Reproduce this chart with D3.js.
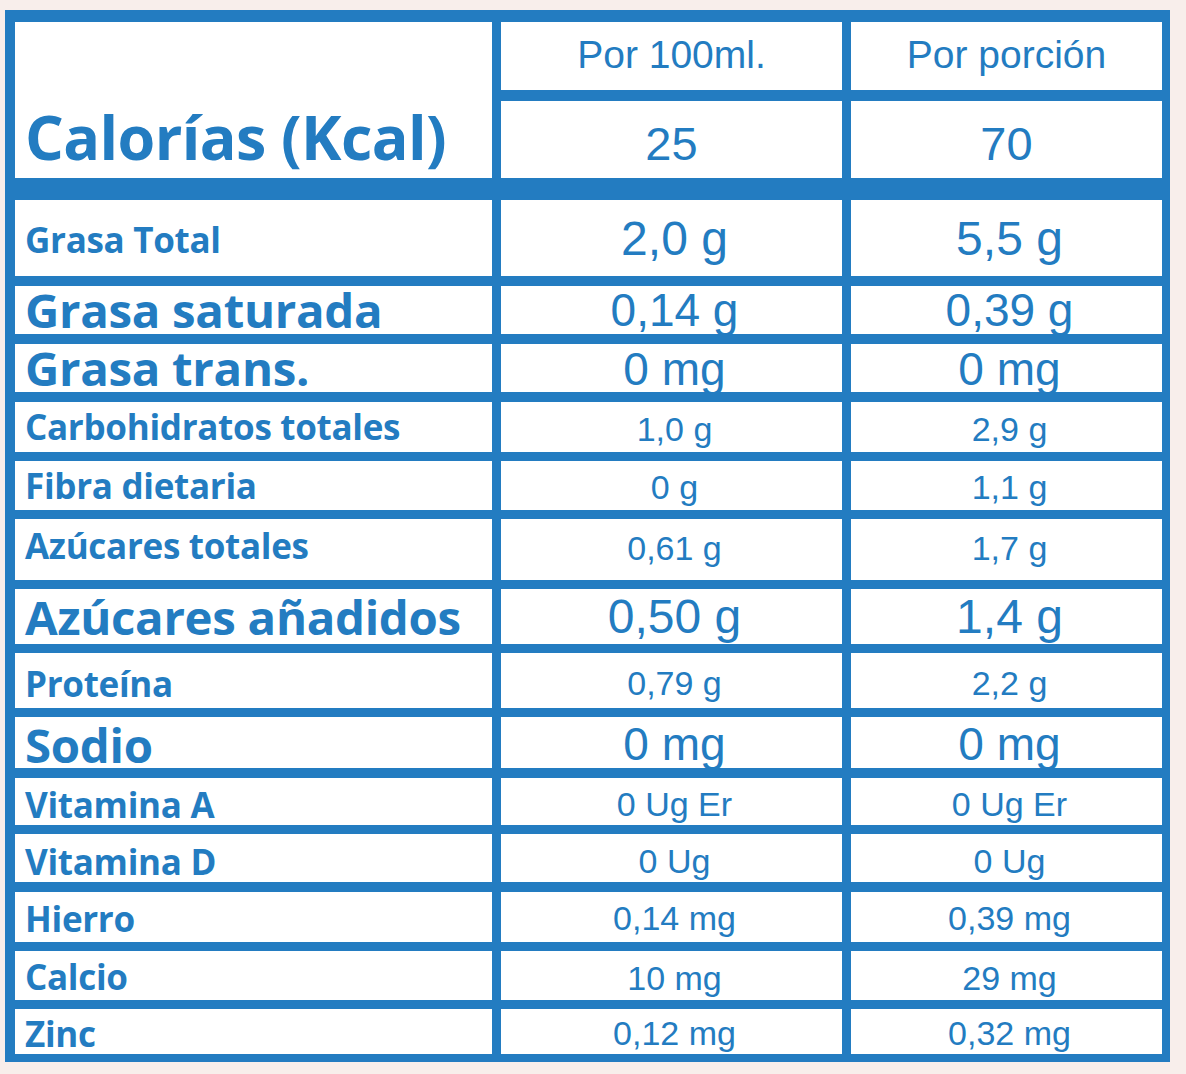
<!DOCTYPE html>
<html><head><meta charset="utf-8">
<script src="https://cdn.jsdelivr.net/npm/d3@7"></script>
<style>body{margin:0;background:#f8eeeb}</style>
</head><body>
<svg id="chart" width="1186" height="1074"></svg>
<script>
// nutrient rows: label, per 100ml, per portion
var labels = ['Grasa Total','Grasa saturada','Grasa trans.','Carbohidratos totales','Fibra dietaria',
  'Azúcares totales','Azúcares añadidos','Proteína','Sodio','Vitamina A','Vitamina D','Hierro','Calcio','Zinc'];
var per100 = ['2,0 g','0,14 g','0 mg','1,0 g','0 g','0,61 g','0,50 g','0,79 g','0 mg','0 Ug Er','0 Ug','0,14 mg','10 mg','0,12 mg'];
var perPortion = ['5,5 g','0,39 g','0 mg','2,9 g','1,1 g','1,7 g','1,4 g','2,2 g','0 mg','0 Ug Er','0 Ug','0,39 mg','29 mg','0,32 mg'];
var headers = ['Por 100ml.','Por porción'];
var calories = ['25','70'];

var blue = '#237cc1';
var rowTop = [200,286,344,402,461,519,589,653,717,778,834,892,951,1009];
var rowBot = [276,334,392,452,510,580,644,708,768,825,882,942,1000,1054];
var labelBase = [253,328,386,440,499,559,635,697,763,818,875,932,990,1047];
var valBase = [255,326,385,441,499,560,633,695,760,816,873,930,990,1045];
var labelSize = [34,46,46,34,34,34,46,34,46,34,34,34,34,34];
var valSize = [48,46,46,34,34,34,48,34,46,34,34,34,34,34];
var cols = [[15,492],[501,842],[851,1162]];

var svg = d3.select('#chart');
svg.append('rect').attr('x',5).attr('y',10).attr('width',1165).attr('height',1052).attr('fill',blue);

function cell(x0,x1,y0,y1){
  svg.append('rect').attr('x',x0).attr('y',y0).attr('width',x1-x0).attr('height',y1-y0).attr('fill','#fff');
}
// header
cell(15,492,22,178);
cell(501,842,22,90); cell(851,1162,22,90);
cell(501,842,101,178); cell(851,1162,101,178);
svg.append('text').attr('x',25).attr('y',160).text('Calorías (Kcal)')
  .attr('font-family','Open Sans').attr('font-weight',700).attr('font-size',61).attr('fill',blue).attr('letter-spacing',-0.6);
headers.forEach(function(h,i){
  var c = cols[i+1];
  svg.append('text').attr('x',(c[0]+c[1])/2).attr('y',68).text(h).attr('text-anchor','middle')
    .attr('font-family','Liberation Sans, Arial').attr('font-size',39).attr('fill',blue);
  svg.append('text').attr('x',(c[0]+c[1])/2).attr('y',160).text(calories[i]).attr('text-anchor','middle')
    .attr('font-family','Liberation Sans, Arial').attr('font-size',47).attr('fill',blue);
});

labels.forEach(function(l,i){
  var y0 = rowTop[i], y1 = rowBot[i];
  cols.forEach(function(c){ cell(c[0],c[1],y0,y1); });
  svg.append('text').attr('x',25).attr('y',labelBase[i]).text(l)
    .attr('font-family','Open Sans').attr('font-weight',700).attr('font-size',labelSize[i]*1.03)
    .attr('fill',blue).attr('letter-spacing',-0.3);
  [per100[i],perPortion[i]].forEach(function(v,j){
    var c = cols[j+1];
    svg.append('text').attr('x',(c[0]+c[1])/2 + 3).attr('y',valBase[i]).text(v)
      .attr('text-anchor','middle').attr('font-family','Liberation Sans, Arial').attr('font-size',valSize[i])
      .attr('fill',blue);
  });
});
</script>
</body></html>
